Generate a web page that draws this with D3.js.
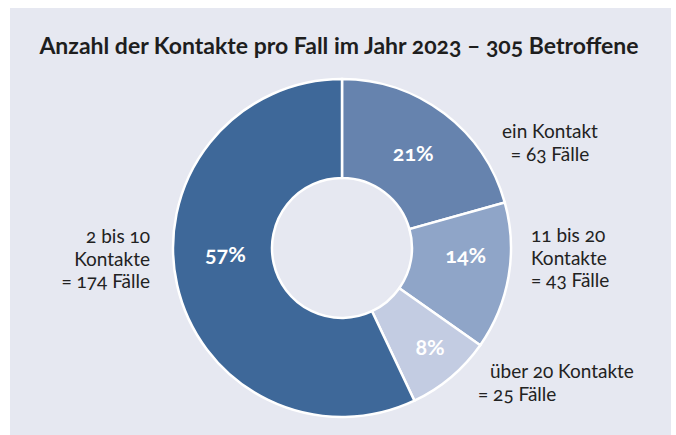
<!DOCTYPE html>
<html>
<head>
<meta charset="utf-8">
<script src="https://cdn.jsdelivr.net/npm/d3@7"></script>
<style>
  body { margin: 0; background: #fff; }
  svg text { font-family: Lato, "Open Sans", sans-serif; font-variant-numeric: oldstyle-nums; }
</style>
</head>
<body>
<div id="chart"></div>
<script>
// data
var categories = ["ein Kontakt", "11 bis 20 Kontakte", "über 20 Kontakte", "2 bis 10 Kontakte"];
var values = [63, 43, 25, 174];
var labelLines = [
    ["ein Kontakt", "= 63 Fälle"],
    ["11 bis 20", "Kontakte", "= 43 Fälle"],
    ["über 20 Kontakte", "= 25 Fälle"],
    ["2 bis 10", "Kontakte", "= 174 Fälle"]
];
var title = "Anzahl der Kontakte pro Fall im Jahr 2023 – 305 Betroffene";

var colors = ["#6683ae", "#8fa5c8", "#c3cce2", "#3e6899"];

var width = 676, height = 435;
var cx = 342, cy = 248, outerR = 169, innerR = 70;

var svg = d3.select("#chart")
    .append("svg")
    .attr("width", width)
    .attr("height", height);

// panel background
svg.append("rect")
    .attr("x", 10).attr("y", 8)
    .attr("width", 661).attr("height", 427)
    .attr("fill", "#e6e8f1");

svg.append("text")
    .attr("x", 339).attr("y", 54)
    .attr("text-anchor", "middle")
    .attr("font-size", 23)
    .attr("font-weight", "bold")
    .attr("fill", "#1e1e1e")
    .text(title);

var total = d3.sum(values);
var pie = d3.pie().sort(null).value(d => d);
var arcs = pie(values);

var arc = d3.arc().innerRadius(innerR).outerRadius(outerR);

var g = svg.append("g")
    .attr("transform", "translate(" + cx + "," + cy + ")");

g.selectAll("path")
    .data(arcs)
    .join("path")
    .attr("d", arc)
    .attr("fill", (d, i) => colors[i])
    .attr("stroke", "#fff")
    .attr("stroke-width", 2.5);

// percent labels: slice centroid plus small nudge
var pctNudge = [[-1, 8], [6, -5], [11, 16], [0, -12]];
g.selectAll("text.pct")
    .data(arcs)
    .join("text")
    .attr("class", "pct")
    .attr("x", (d, i) => arc.centroid(d)[0] + pctNudge[i][0])
    .attr("y", (d, i) => arc.centroid(d)[1] + pctNudge[i][1])
    .attr("text-anchor", "middle")
    .attr("font-size", 21.5)
    .attr("font-weight", "bold")
    .attr("fill", "#fff")
    .text(d => Math.round(d.value / total * 100) + "%");

// outside labels
var labelLayout = [
    { x: 550, y: 138, anchor: "middle" },
    { x: 531, y: 242, anchor: "start" },
    { x: 490, y: 378, anchor: "start" },
    { x: 150, y: 243, anchor: "end" }
];
var lineH = 22.5;

labelLines.forEach(function (lines, i) {
    var L = labelLayout[i];
    var t = svg.append("text")
        .attr("font-size", 19)
        .attr("fill", "#222")
        .attr("text-anchor", L.anchor);
    lines.forEach(function (s, j) {
        var x = L.x;
        if (i === 2 && j === 1) x = 478;
        t.append("tspan")
            .attr("x", x)
            .attr("y", L.y + j * lineH)
            .text(s);
    });
});
</script>
</body>
</html>
